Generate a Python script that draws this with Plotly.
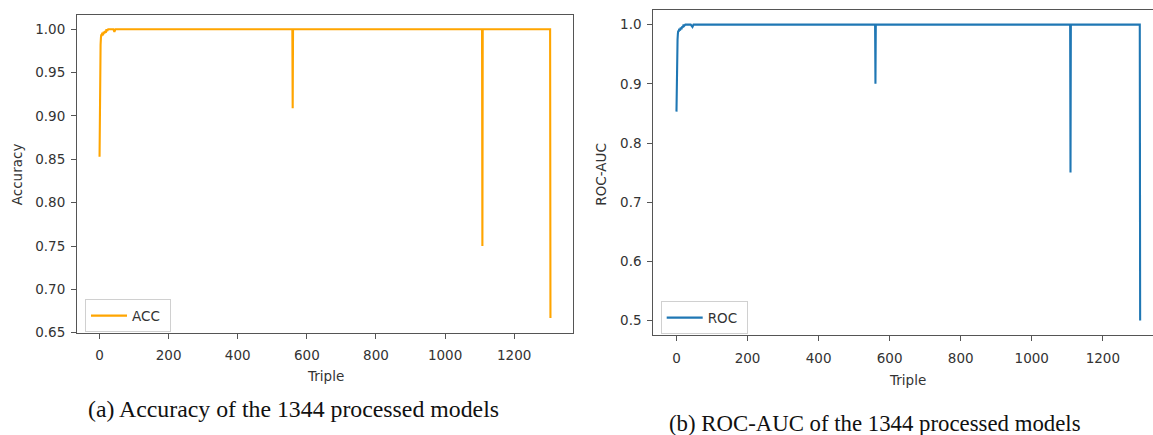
import plotly.graph_objects as go

# ---- data ----
acc_triple = [0, 1, 2, 3, 4, 5, 6, 8, 10, 12, 14, 16, 18, 20, 22, 25, 30, 35, 40, 43, 46, 50,
              558, 559, 560, 1107, 1108, 1109, 1304, 1305]
acc_values = [0.853, 0.93, 0.965, 0.982, 0.99, 0.994, 0.992, 0.996, 0.993, 0.997, 0.995, 0.998,
              0.996, 1.0, 0.998, 1.0, 1.0, 1.0, 1.0, 0.997, 1.0, 1.0,
              1.0, 0.909, 1.0, 1.0, 0.75, 1.0, 1.0, 0.667]

roc_triple = [0, 1, 2, 3, 4, 5, 6, 8, 10, 12, 14, 16, 18, 20, 22, 25, 30, 35, 40, 45, 48, 52,
              559, 560, 561, 1108, 1109, 1110, 1304, 1305]
roc_values = [0.853, 0.93, 0.96, 0.975, 0.985, 0.99, 0.988, 0.993, 0.99, 0.995, 0.992, 0.997,
              0.995, 1.0, 0.998, 1.0, 1.0, 1.0, 1.0, 0.996, 1.0, 1.0,
              1.0, 0.9, 1.0, 1.0, 0.75, 1.0, 1.0, 0.5]

x_ticks = [0, 200, 400, 600, 800, 1000, 1200]
acc_ticks = [0.65, 0.70, 0.75, 0.80, 0.85, 0.90, 0.95, 1.00]
roc_ticks = [0.5, 0.6, 0.7, 0.8, 0.9, 1.0]

W, H = 1153, 435
def px(x):
    return x / W
def py(y):
    return 1 - y / H

tick_font = dict(family="DejaVu Sans", size=13.5, color="#333333")
axcol = "#555555"

fig = go.Figure()
fig.add_trace(go.Scatter(x=acc_triple, y=acc_values, mode="lines", name="ACC ",
                         line=dict(color="#FFA500", width=2.1), xaxis="x", yaxis="y",
                         legend="legend"))
fig.add_trace(go.Scatter(x=roc_triple, y=roc_values, mode="lines", name="ROC ",
                         line=dict(color="#1f77b4", width=2.1), xaxis="x2", yaxis="y2",
                         legend="legend2"))

common_axis = dict(showgrid=False, zeroline=False, showline=True, linecolor=axcol, linewidth=1.1,
                   ticks="outside", ticklen=5, tickwidth=1.1, tickcolor=axcol, tickfont=tick_font)

fig.update_layout(
    width=W, height=H, margin=dict(l=0, r=0, t=0, b=0),
    paper_bgcolor="white", plot_bgcolor="white",
    xaxis=dict(domain=[px(77), px(573)], range=[-65.25, 1370.25], tickvals=x_ticks,
               anchor="y", mirror=True, ticklabelstandoff=5, **common_axis),
    yaxis=dict(domain=[py(339), py(15)], range=[0.65, 1.0167], tickvals=acc_ticks,
               tickformat=".2f", anchor="x", mirror=True, ticklabelstandoff=3, **common_axis),
    xaxis2=dict(domain=[px(653.3), 1.0], range=[-65.25, 1341.2], tickvals=x_ticks,
                anchor="y2", mirror=True, ticklabelstandoff=5, **common_axis),
    yaxis2=dict(domain=[py(341.7), py(10)], range=[0.475, 1.025], tickvals=roc_ticks,
                tickformat=".1f", anchor="x2", mirror=False, ticklabelstandoff=3, **common_axis),
    legend=dict(x=px(85), y=py(305), xanchor="left", yanchor="top", itemwidth=36,
                bgcolor="rgba(255,255,255,0.8)", bordercolor="#d0d0d0", borderwidth=1,
                font=dict(family="DejaVu Sans", size=13.5, color="#333333")),
    legend2=dict(x=px(660.7), y=py(307), xanchor="left", yanchor="top", itemwidth=36,
                 bgcolor="rgba(255,255,255,0.8)", bordercolor="#d0d0d0", borderwidth=1,
                 font=dict(family="DejaVu Sans", size=13.5, color="#333333")),
    showlegend=True,
)

label_font = dict(family="DejaVu Sans", size=13.5, color="#333333")
cap_font_a = dict(family="Liberation Serif", size=23.8, color="#111111")
cap_font_b = dict(family="Liberation Serif", size=22.8, color="#111111")
annotations = [
    dict(text="Accuracy", x=px(16.5), y=py(178), textangle=-90, font=label_font),
    dict(text="Triple", x=px(325.5), y=py(383), font=label_font),
    dict(text="ROC-AUC", x=px(601), y=py(178), textangle=-90, font=label_font),
    dict(text="Triple", x=px(907.5), y=py(387), font=label_font),
    dict(text="(a) Accuracy of the 1344 processed models", x=px(293), y=py(417), font=cap_font_a),
    dict(text="(b) ROC-AUC of the 1344 processed models", x=px(875), y=py(431), font=cap_font_b),
]
for a in annotations:
    a.update(xref="paper", yref="paper", showarrow=False, xanchor="center", yanchor="middle")
fig.update_layout(annotations=annotations)

fig.write_html("out.html")
